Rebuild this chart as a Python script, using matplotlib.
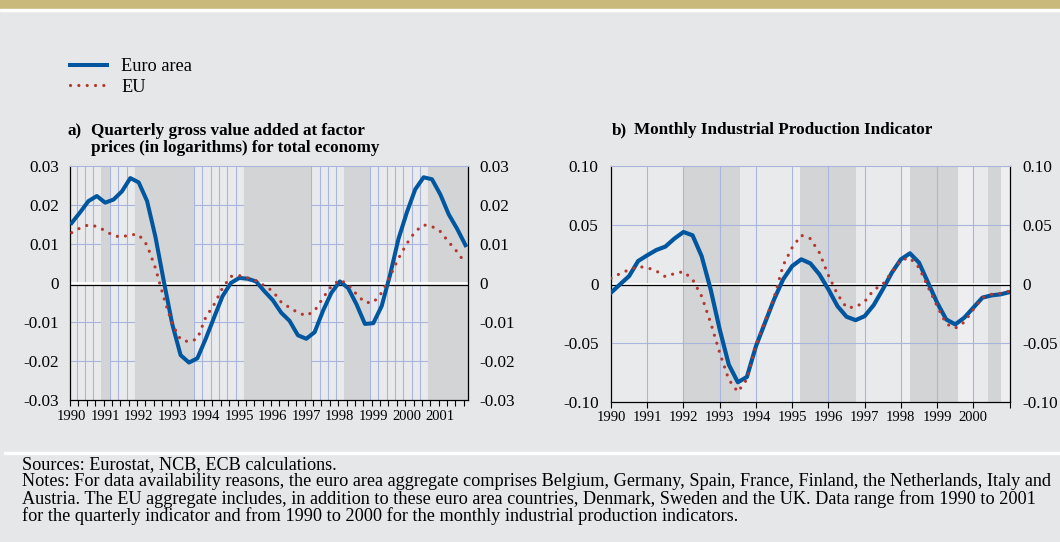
import matplotlib.pyplot as plt
import matplotlib.transforms as mtransforms
from matplotlib.patches import Rectangle
import numpy as np

plt.rcParams['font.family'] = ['Liberation Serif', 'DejaVu Serif']
plt.rcParams['axes.unicode_minus'] = False

# colours
BG = '#e6e7e9'
AX_BG = '#e9eaec'
SHADE = '#d3d4d6'
LIGHT = '#eeeef0'
GRID = '#a9b5dd'
KHAKI = '#c9b97b'
BLUE = '#0057a0'
RED = '#b3372d'

# ---- panel a: quarterly gross value added (1990Q1 - 2001Q4)
qa_quarters = np.arange(48)
qa_euro = [0.0154, 0.0181, 0.0210, 0.0223, 0.0206, 0.0214, 0.0235, 0.0269,
           0.0258, 0.0210, 0.0118, 0.0004, -0.0105, -0.0185, -0.0204, -0.0193,
           -0.0143, -0.0088, -0.0034, 0.0000, 0.0013, 0.0011, 0.0004, -0.0021,
           -0.0044, -0.0076, -0.0097, -0.0134, -0.0143, -0.0126, -0.0071, -0.0025,
           0.0004, -0.0013, -0.0055, -0.0105, -0.0103, -0.0059, 0.0021, 0.0113,
           0.0181, 0.0240, 0.0271, 0.0266, 0.0227, 0.0176, 0.0139, 0.0097]
qa_eu = [0.0129, 0.0141, 0.0149, 0.0145, 0.0134, 0.0121, 0.0118, 0.0124,
         0.0124, 0.0097, 0.0038, -0.0038, -0.0105, -0.0145, -0.0151, -0.0143,
         -0.0088, -0.0055, -0.0013, 0.0017, 0.0019, 0.0013, 0.0006, -0.0007,
         -0.0021, -0.0049, -0.0063, -0.0076, -0.0084, -0.0071, -0.0038, -0.0008,
         0.0008, -0.0004, -0.0029, -0.0050, -0.0050, -0.0025, 0.0017, 0.0063,
         0.0101, 0.0132, 0.0149, 0.0145, 0.0132, 0.0105, 0.0080, 0.0050]
qa_years = [str(y) for y in range(1990, 2002)]
qa_yticks = [-0.03, -0.02, -0.01, 0, 0.01, 0.02, 0.03]
qa_ylabels = ['-0.03', '-0.02', '-0.01', '0', '0.01', '0.02', '0.03']
qa_shaded = [(3.55, 4.55), (7.55, 14.55), (20.55, 28.55), (32.55, 35.55), (42.55, 47.3)]

# ---- panel b: monthly industrial production (read every quarter, 1990 - 2001)
mb_time = 1990 + 0.25 * np.arange(45)
mb_euro = [-0.0075, -0.0004, 0.0066, 0.0194, 0.0242, 0.0287, 0.0316, 0.0384,
           0.0440, 0.0412, 0.0236, -0.0047, -0.0387, -0.0685, -0.0835, -0.0790,
           -0.0529, -0.0330, -0.0132, 0.0038, 0.0151, 0.0208, 0.0174, 0.0081,
           -0.0047, -0.0189, -0.0279, -0.0308, -0.0274, -0.0180, -0.0047, 0.0095,
           0.0208, 0.0259, 0.0180, 0.0010, -0.0160, -0.0302, -0.0344, -0.0287,
           -0.0202, -0.0117, -0.0098, -0.0089, -0.0070]
mb_eu = [0.0047, 0.0087, 0.0120, 0.0146, 0.0138, 0.0109, 0.0061, 0.0087,
         0.0104, 0.0038, -0.0104, -0.0330, -0.0585, -0.0812, -0.0917, -0.0810,
         -0.0520, -0.0316, -0.0117, 0.0157, 0.0308, 0.0412, 0.0384, 0.0265,
         0.0072, -0.0089, -0.0202, -0.0197, -0.0151, -0.0052, -0.0004, 0.0100,
         0.0203, 0.0220, 0.0138, -0.0027, -0.0189, -0.0339, -0.0376, -0.0325,
         -0.0217, -0.0117, -0.0089, -0.0081, -0.0061]
mb_years = list(range(1990, 2002))
mb_yticks = [-0.10, -0.05, 0, 0.05, 0.10]
mb_ylabels = ['-0.10', '-0.05', '0', '0.05', '0.10']
mb_shaded = [(1992.0, 1993.57), (1995.22, 1996.75), (1998.25, 1999.58), (2000.41, 2000.76)]
mb_light = [(1994.96, 1995.22), (1998.0, 1998.25), (1999.58, 2000.0), (2000.76, 2001.0)]

W, H = 1060, 542
fig = plt.figure(figsize=(W / 100, H / 100), dpi=100, facecolor=BG)

# top band and separators
fig.patches.append(Rectangle((0, 1 - 9 / H), 1, 9 / H, transform=fig.transFigure,
                             color=KHAKI, zorder=0))
fig.patches.append(Rectangle((0, 1 - 11 / H), 1, 2 / H, transform=fig.transFigure,
                             color='white', zorder=0))
fig.patches.append(Rectangle((4 / W, 1 - 454 / H), 1, 2 / H, transform=fig.transFigure,
                             color='white', zorder=0))

zero_off = mtransforms.ScaledTranslation(0, -1.5 / 100, fig.dpi_scale_trans)

# ---------------- panel a
ax1 = fig.add_axes([70 / W, 1 - 400 / H, 398 / W, 234 / H])
ax1.set_facecolor(AX_BG)
ax1.set_xlim(-0.2, 47.3)
ax1.set_ylim(-0.03, 0.03)
ax1.vlines(np.arange(47) + 0.58, -0.03, 0.03, color=GRID, lw=0.8, zorder=0.5)
ax1.hlines([-0.02, -0.01, 0.01, 0.02], -0.2, 47.3, color=GRID, lw=0.8, zorder=0.5)
for a, b in qa_shaded:
    ax1.axvspan(a, b, color=SHADE, lw=0, zorder=1)
ax1.axhline(0, color='white', lw=2, zorder=2)
ax1.plot([0, 1], [0, 0], color='black', lw=0.9, zorder=2.1,
         transform=ax1.get_yaxis_transform() + zero_off)
l_euro, = ax1.plot(qa_quarters, qa_euro, color=BLUE, lw=2.9, zorder=4)
l_eu, = ax1.plot(qa_quarters, qa_eu, color=RED, lw=2.3, linestyle=(0, (0.01, 2.6)),
                 dash_capstyle='round', zorder=5)

ax1.set_xticks(np.arange(0, 48, 4))
ax1.set_xticklabels(qa_years, fontsize=10.5)
ax1.set_xticks(np.arange(48) - 0.2, minor=True)
ax1.tick_params(axis='x', which='major', length=0, pad=7)
ax1.tick_params(axis='x', which='minor', length=4, width=0.8, direction='out')
ax1.set_yticks(qa_yticks)
ax1.set_yticklabels(qa_ylabels, fontsize=12.3)
ax1.tick_params(axis='y', length=0, pad=8, labelright=True)
for s in ['left', 'right', 'bottom']:
    ax1.spines[s].set_color('black')
    ax1.spines[s].set_linewidth(0.9)
ax1.spines['top'].set_color(GRID)

# ---------------- panel b
ax2 = fig.add_axes([611 / W, 1 - 401.7 / H, 398.6 / W, 235.7 / H])
ax2.set_facecolor(AX_BG)
ax2.set_xlim(1990, 2001)
ax2.set_ylim(-0.10, 0.10)
for a, b in mb_light:
    ax2.axvspan(a, b, color=LIGHT, lw=0, zorder=0.8)
for a, b in mb_shaded:
    ax2.axvspan(a, b, color=SHADE, lw=0, zorder=1)
ax2.vlines(mb_years[1:-1], -0.10, 0.10, color=GRID, lw=0.8, zorder=1.5)
ax2.hlines([-0.05, 0.05], 1990, 2001, color=GRID, lw=0.8, zorder=1.5)
ax2.axhline(0, color='white', lw=2, zorder=2)
ax2.plot([0, 1], [0, 0], color='black', lw=0.9, zorder=2.1,
         transform=ax2.get_yaxis_transform() + zero_off)
ax2.plot(mb_time, mb_euro, color=BLUE, lw=3.0, zorder=4)
ax2.plot(mb_time, mb_eu, color=RED, lw=2.3, linestyle=(0, (0.01, 2.6)),
         dash_capstyle='round', zorder=5)

ax2.set_xticks(mb_years)
ax2.set_xticklabels([str(y) for y in mb_years[:-1]] + [''], fontsize=10.5)
ax2.tick_params(axis='x', length=4, width=0.8, direction='out', pad=3)
ax2.set_yticks(mb_yticks)
ax2.set_yticklabels(mb_ylabels, fontsize=12.3)
ax2.tick_params(axis='y', length=0, pad=9, labelright=True)
for s in ['left', 'right', 'bottom']:
    ax2.spines[s].set_color('black')
    ax2.spines[s].set_linewidth(0.9)
ax2.spines['top'].set_color(GRID)

# ---------------- legend
fig.legend([l_euro, l_eu], ['Euro area', 'EU'], loc='upper left',
           bbox_to_anchor=(70 / W, 1 - 58 / H), frameon=False, fontsize=13.2,
           handlelength=2.0, handletextpad=0.8, labelspacing=0.2,
           borderpad=0, borderaxespad=0)

# ---------------- titles
TSIZE = 12.3
fig.text(67 / W, 1 - 131 / H, 'a)', fontsize=TSIZE, weight='bold', va='center')
fig.text(91 / W, 1 - 131 / H, 'Quarterly gross value added at factor',
         fontsize=TSIZE, weight='bold', va='center')
fig.text(91 / W, 1 - 148 / H, 'prices (in logarithms) for total economy',
         fontsize=TSIZE, weight='bold', va='center')
fig.text(612 / W, 1 - 130 / H, 'b)', fontsize=TSIZE, weight='bold', va='center')
fig.text(634 / W, 1 - 130 / H, 'Monthly Industrial Production Indicator',
         fontsize=TSIZE, weight='bold', va='center')

# ---------------- footer
footer = [
    'Sources: Eurostat, NCB, ECB calculations.',
    'Notes: For data availability reasons, the euro area aggregate comprises Belgium, Germany, '
    'Spain, France, Finland, the Netherlands, Italy and',
    'Austria. The EU aggregate includes, in addition to these euro area countries, Denmark, '
    'Sweden and the UK. Data range from 1990 to 2001',
    'for the quarterly indicator and from 1990 to 2000 for the monthly industrial production indicators.',
]
for k, line in enumerate(footer):
    fig.text(22 / W, 1 - (465 + 17 * k) / H, line, fontsize=13.15, va='center',
             family=['Liberation Serif', 'DejaVu Serif'])

fig.savefig('out.png', dpi=100, facecolor=BG)
